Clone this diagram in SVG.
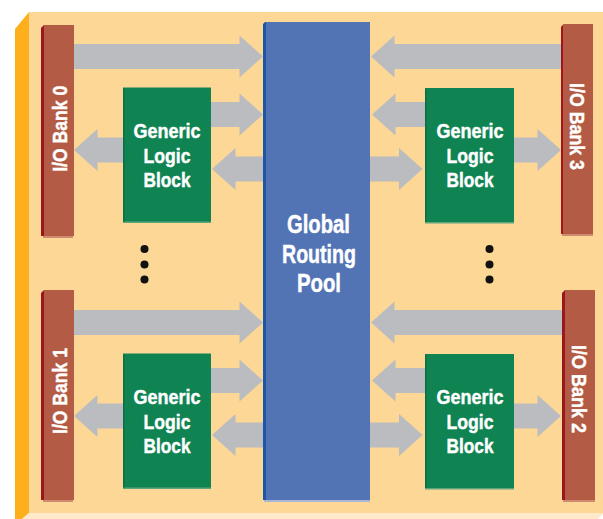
<svg xmlns="http://www.w3.org/2000/svg" width="603" height="519" viewBox="0 0 603 519">
<defs>
<style>
.bg{fill:#fdd795}
.side{fill:#fdb01b}
.base{fill:#feeaca}
.arrow{fill:#bbbcbf}
.bank{fill:#b35b44}
.bankedge{fill:#9e161d}
.bankshade{fill:#cf8a72}
.glb{fill:#108352}
.glbedge{fill:#0c6e44}
.glbshade{fill:#5fa57c}
.pool{fill:#5274b4}
.pooledge{fill:#1c56a4}
.poolshade{fill:#a9b6d6}
.dot{fill:#111}
.t{font-family:"Liberation Sans",Arial,sans-serif;font-weight:bold;fill:#ffffff;stroke:#ffffff;stroke-width:0.45;text-anchor:middle}
.t21{font-size:21px}
.t25{font-size:25px}
</style>
</defs>
<g id="board">
<rect class="bg" x="29" y="12" width="574" height="501"/>
<polygon class="side" points="15,29 29,12 29,513 22,519 15,519"/>
<polygon class="base" points="29,513 603,513 603,514 598,519 22,519"/>
</g>
<g id="connectors">
<polygon class="arrow" points="73,44 239.5,44 239.5,35.5 263,56.5 239.5,77.5 239.5,69 73,69"/>
<polygon class="arrow" points="211,102 239.5,102 239.5,93.5 263,114.5 239.5,135.5 239.5,127 211,127"/>
<polygon class="arrow" points="265,156.5 235.5,156.5 235.5,148 212,169 235.5,190 235.5,181.5 265,181.5"/>
<polygon class="arrow" points="123,137.5 97.5,137.5 97.5,129 74,150 97.5,171 97.5,162.5 123,162.5"/>
<polygon class="arrow" points="561,44 394.5,44 394.5,35.5 371,56.5 394.5,77.5 394.5,69 561,69"/>
<polygon class="arrow" points="425,102 395.5,102 395.5,93.5 372,114.5 395.5,135.5 395.5,127 425,127"/>
<polygon class="arrow" points="370,156.5 399,156.5 399,148 422.5,169 399,190 399,181.5 370,181.5"/>
<polygon class="arrow" points="514,137.5 537.5,137.5 537.5,129 561,150 537.5,171 537.5,162.5 514,162.5"/>
<polygon class="arrow" points="73,310 239.5,310 239.5,301.5 263,322.5 239.5,343.5 239.5,335 73,335"/>
<polygon class="arrow" points="211,368 239.5,368 239.5,359.5 263,380.5 239.5,401.5 239.5,393 211,393"/>
<polygon class="arrow" points="265,422.5 235.5,422.5 235.5,414 212,435 235.5,456 235.5,447.5 265,447.5"/>
<polygon class="arrow" points="123,403.5 97.5,403.5 97.5,395 74,416 97.5,437 97.5,428.5 123,428.5"/>
<polygon class="arrow" points="562,310 394.5,310 394.5,301.5 371,322.5 394.5,343.5 394.5,335 562,335"/>
<polygon class="arrow" points="425,368 395.5,368 395.5,359.5 372,380.5 395.5,401.5 395.5,393 425,393"/>
<polygon class="arrow" points="370,422.5 399,422.5 399,414 422.5,435 399,456 399,447.5 370,447.5"/>
<polygon class="arrow" points="514,403.5 537.5,403.5 537.5,395 561,416 537.5,437 537.5,428.5 514,428.5"/>
</g>
<g id="pool">
<rect class="poolshade" x="264" y="500" width="106" height="2"/>
<rect class="pool" x="265" y="22" width="105" height="478"/>
<polygon class="pooledge" points="263,24 265,22 266,22 266,500 263,500"/>
<text class="t t25" x="318.5" y="233" textLength="63" lengthAdjust="spacingAndGlyphs">Global</text>
<text class="t t25" x="319" y="262.5" textLength="74" lengthAdjust="spacingAndGlyphs">Routing</text>
<text class="t t25" x="319" y="291.7" textLength="44" lengthAdjust="spacingAndGlyphs">Pool</text>
</g>
<g id="bank0">
<rect class="bankshade" x="43" y="236" width="30" height="2"/>
<rect class="bank" x="44" y="25" width="30" height="211"/>
<polygon class="bankedge" points="41,28 44,25 44,236 41,236"/>
<text class="t t21" transform="translate(66.7,128.8) rotate(-90)" textLength="86" lengthAdjust="spacingAndGlyphs">I/O Bank 0</text>
</g>
<g id="bank1">
<rect class="bankshade" x="43" y="500" width="30" height="2"/>
<rect class="bank" x="44" y="290" width="30" height="210"/>
<polygon class="bankedge" points="41,293 44,290 44,500 41,500"/>
<text class="t t21" transform="translate(66.7,391) rotate(-90)" textLength="86" lengthAdjust="spacingAndGlyphs">I/O Bank 1</text>
</g>
<g id="bank3">
<rect class="bankshade" x="562" y="234" width="31" height="2"/>
<rect class="bank" x="563.5" y="24" width="29.5" height="210"/>
<polygon class="bankedge" points="561,27 563.5,24 563.5,234 561,234"/>
<text class="t t21" transform="translate(570,126.5) rotate(90)" textLength="87" lengthAdjust="spacingAndGlyphs">I/O Bank 3</text>
</g>
<g id="bank2">
<rect class="bankshade" x="563" y="500" width="32" height="2"/>
<rect class="bank" x="565" y="290" width="30" height="210"/>
<polygon class="bankedge" points="562,293 565,290 565,500 562,500"/>
<text class="t t21" transform="translate(572,389) rotate(90)" textLength="88" lengthAdjust="spacingAndGlyphs">I/O Bank 2</text>
</g>
<g id="glb0">
<rect class="glbshade" x="123" y="221" width="88" height="2"/>
<rect class="glb" x="123" y="87.5" width="88" height="134"/>
<rect class="glbedge" x="123" y="88.5" width="1.5" height="133"/>
<text class="t t21" x="167" y="138.3" textLength="67" lengthAdjust="spacingAndGlyphs">Generic</text>
<text class="t t21" x="167" y="163" textLength="47" lengthAdjust="spacingAndGlyphs">Logic</text>
<text class="t t21" x="167" y="187" textLength="47" lengthAdjust="spacingAndGlyphs">Block</text>
</g>
<g id="glb3">
<rect class="glbshade" x="425" y="221.5" width="89" height="2"/>
<rect class="glb" x="425" y="88" width="89" height="134"/>
<rect class="glbedge" x="425" y="89" width="1.5" height="133"/>
<text class="t t21" x="470" y="138.3" textLength="67" lengthAdjust="spacingAndGlyphs">Generic</text>
<text class="t t21" x="470" y="163" textLength="47" lengthAdjust="spacingAndGlyphs">Logic</text>
<text class="t t21" x="470" y="187" textLength="47" lengthAdjust="spacingAndGlyphs">Block</text>
</g>
<g id="glb1">
<rect class="glbshade" x="123" y="487" width="88" height="2"/>
<rect class="glb" x="123" y="353.5" width="88" height="134"/>
<rect class="glbedge" x="123" y="354.5" width="1.5" height="133"/>
<text class="t t21" x="167" y="404.3" textLength="67" lengthAdjust="spacingAndGlyphs">Generic</text>
<text class="t t21" x="167" y="429" textLength="47" lengthAdjust="spacingAndGlyphs">Logic</text>
<text class="t t21" x="167" y="453" textLength="47" lengthAdjust="spacingAndGlyphs">Block</text>
</g>
<g id="glb2">
<rect class="glbshade" x="425" y="487.5" width="89" height="2"/>
<rect class="glb" x="425" y="354" width="89" height="134"/>
<rect class="glbedge" x="425" y="355" width="1.5" height="133"/>
<text class="t t21" x="470" y="404.3" textLength="67" lengthAdjust="spacingAndGlyphs">Generic</text>
<text class="t t21" x="470" y="429" textLength="47" lengthAdjust="spacingAndGlyphs">Logic</text>
<text class="t t21" x="470" y="453" textLength="47" lengthAdjust="spacingAndGlyphs">Block</text>
</g>
<g id="ellipsis-left">
<circle class="dot" cx="144.5" cy="249" r="4"/>
<circle class="dot" cx="144.5" cy="264.5" r="4"/>
<circle class="dot" cx="144.5" cy="279.5" r="4"/>
</g>
<g id="ellipsis-right">
<circle class="dot" cx="489.5" cy="249" r="4"/>
<circle class="dot" cx="489.5" cy="264.5" r="4"/>
<circle class="dot" cx="489.5" cy="279.5" r="4"/>
</g>
</svg>
